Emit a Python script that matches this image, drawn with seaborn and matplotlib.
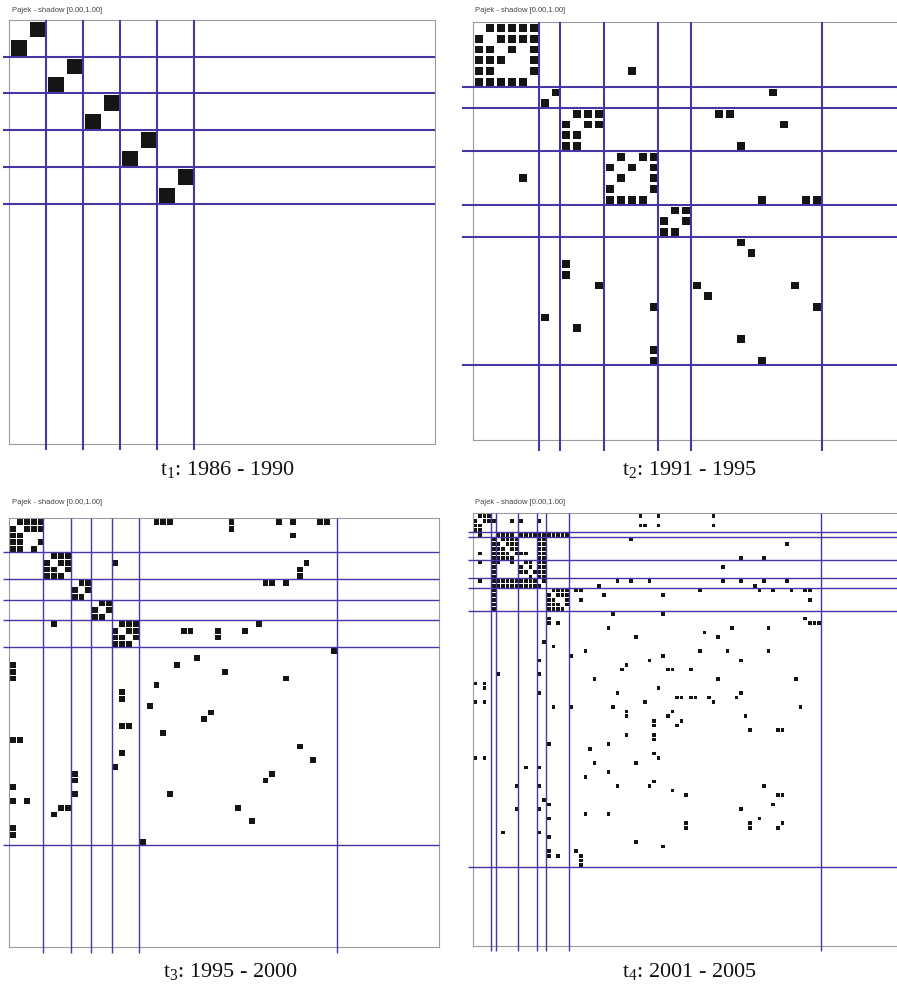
import numpy as np
import matplotlib
matplotlib.use('Agg')
import matplotlib.pyplot as plt
import seaborn as sns
from matplotlib.colors import ListedColormap

# ---- data: block sizes and filled cells (row -> columns) ----
p1_n = 23
p1_sizes = [2, 2, 2, 2, 2]
p1_cells = {0: [1], 1: [0], 2: [3], 3: [2], 4: [5], 5: [4],
            6: [7], 7: [6], 8: [9], 9: [8]}

p2_n = 39
p2_sizes = [6, 2, 4, 5, 3, 12]
p2_cells = {
    0: [1, 2, 3, 4, 5], 1: [0, 2, 3, 4, 5], 2: [0, 1, 3, 5], 3: [0, 1, 2, 5],
    4: [0, 1, 5, 14], 5: [0, 1, 2, 3, 4],
    6: [7, 27], 7: [6],
    8: [9, 10, 11, 22, 23], 9: [8, 10, 11, 28], 10: [8, 9], 11: [8, 9, 24],
    12: [13, 15, 16], 13: [12, 14, 16], 14: [4, 13, 16], 15: [12, 16],
    16: [12, 13, 14, 15, 26, 30, 31],
    17: [18, 19], 18: [17, 19], 19: [17, 18],
    20: [24], 21: [25], 22: [8], 23: [8], 24: [11, 20, 29], 25: [21],
    26: [16, 31], 27: [6], 28: [9], 29: [24], 30: [16], 31: [16, 26],
}

p3_n = 63
p3_sizes = [5, 4, 3, 3, 4, 29]
p3_cells = {
    0: [1, 2, 3, 4, 21, 22, 23, 32, 39, 41, 45, 46], 1: [0, 2, 3, 4, 32],
    2: [0, 1, 41], 3: [0, 1, 4], 4: [0, 1, 3],
    5: [6, 7, 8], 6: [5, 7, 8, 15, 43], 7: [5, 6, 8, 42], 8: [5, 6, 7, 42],
    9: [10, 11, 37, 38, 40], 10: [9, 11], 11: [9, 10],
    12: [13, 14], 13: [12, 14], 14: [12, 13],
    15: [6, 16, 17, 18, 36], 16: [15, 17, 18, 25, 26, 30, 34],
    17: [15, 16, 18, 30], 18: [15, 16, 17],
    19: [47], 20: [27], 21: [0, 24], 22: [0, 31], 23: [0, 40], 24: [21],
    25: [16], 26: [16], 27: [20], 28: [29], 29: [28], 30: [16, 17], 31: [22],
    32: [0, 1], 33: [42], 34: [16], 35: [44], 36: [15], 37: [9, 38],
    38: [9, 37], 39: [0], 40: [9, 23], 41: [0, 2], 42: [7, 8, 33], 43: [6],
    44: [35], 45: [0], 46: [0], 47: [19],
}

p4_n = 93
p4_sizes = [4, 1, 5, 4, 2, 5, 55]
p4_cells = {
    0: [1, 2, 3, 36, 40, 52], 1: [0, 2, 3, 4, 8, 10, 14],
    2: [0, 1, 36, 37, 40, 52], 3: [0, 1],
    4: [1, 5, 6, 7, 8, 10, 11, 12, 13, 14, 15, 16, 17, 18, 19, 20],
    5: [4, 6, 7, 8, 9, 14, 15, 34], 6: [4, 5, 7, 8, 9, 14, 15, 68],
    7: [4, 5, 6, 8, 9, 14, 15], 8: [1, 4, 5, 6, 7, 9, 10, 11, 14, 15],
    9: [4, 5, 6, 7, 8, 14, 15, 58, 63], 10: [1, 4, 5, 8, 11, 12, 14, 15],
    11: [4, 10, 12, 14, 15, 54], 12: [4, 10, 11, 13, 14, 15], 13: [4, 12, 14, 15],
    14: [1, 4, 5, 6, 7, 8, 9, 10, 11, 12, 13, 15, 31, 34, 38, 54, 58, 63, 68],
    15: [4, 5, 6, 7, 8, 9, 10, 11, 12, 13, 14, 27, 61],
    16: [4, 17, 18, 19, 20, 22, 23, 49, 62, 65, 69, 72, 73],
    17: [4, 16, 18, 19, 20, 28, 41], 18: [4, 16, 17, 20, 23, 73],
    19: [4, 16, 17, 18, 20], 20: [4, 16, 17, 18, 19],
    21: [30, 41], 22: [16, 72], 23: [16, 18, 73, 74, 75], 24: [29, 56, 64],
    25: [50], 26: [35, 53], 27: [15], 28: [17], 29: [24, 49, 55, 64],
    30: [21, 41], 31: [14, 38, 58], 32: [33], 33: [32, 42, 43, 47], 34: [5, 14],
    35: [26, 53, 70], 36: [0, 2], 37: [2, 40], 38: [14, 31, 58],
    39: [44, 45, 47, 48, 51, 57], 40: [0, 2, 37, 52], 41: [17, 21, 30, 71],
    42: [33, 43], 43: [33, 42, 59], 44: [39, 45], 45: [39, 44], 46: [60, 66, 67],
    47: [33, 39], 48: [39], 49: [16, 29], 50: [25], 51: [39], 52: [0, 2, 40],
    53: [26, 35], 54: [11, 14], 55: [29], 56: [24], 57: [39],
    58: [9, 14, 31, 38, 63], 59: [43], 60: [46, 66, 67], 61: [15], 62: [16, 65],
    63: [9, 14, 58], 64: [24, 29], 65: [16, 62], 66: [46, 60, 67],
    67: [46, 60, 66], 68: [6, 14], 69: [16], 70: [35], 71: [41], 72: [16, 22],
    73: [16, 18, 23], 74: [23], 75: [23],
}

title = "Pajek - shadow [0.00,1.00]"
periods = ["1986 - 1990", "1991 - 1995", "1995 - 2000", "2001 - 2005"]

W, H = 897, 987
fig = plt.figure(figsize=(W / 100, H / 100), dpi=100)
line_col = '#4636a6'


def draw_panel(frame, n, sizes, cells, ext, lw, gap, title_xy, cap_xy, k):
    x0, y0, x1, y1 = frame
    ax = fig.add_axes([x0 / W, 1 - y1 / H, (x1 - x0) / W, (y1 - y0) / H])
    m = np.zeros((n, n))
    for r, cols in cells.items():
        m[r, cols] = 1
    sns.heatmap(m, mask=(m == 0), cmap=ListedColormap(['#151515']),
                vmin=0, vmax=1, cbar=False, linewidths=gap, linecolor='white',
                xticklabels=False, yticklabels=False, ax=ax)
    ax.set_xlim(0, n)
    ax.set_ylim(n, 0)
    for s in ax.spines.values():
        s.set_visible(True)
        s.set_color('#9c9c9c')
        s.set_linewidth(0.8)
    for b in np.cumsum(sizes):
        ax.plot([-ext, n], [b, b], color=line_col, lw=lw, clip_on=False,
                solid_capstyle='butt', zorder=3)
        ax.plot([b, b], [0, n + ext], color=line_col, lw=lw, clip_on=False,
                solid_capstyle='butt', zorder=3)
    fig.text(title_xy[0] / W, 1 - title_xy[1] / H, title, fontsize=5.5,
             family='Liberation Sans', color='#444444', va='center', ha='left')
    fig.text(cap_xy[0] / W, 1 - cap_xy[1] / H,
             r'$\mathregular{t_%d}$: %s' % (k + 1, periods[k]),
             fontsize=16, family='Liberation Serif', color='#111111',
             ha='center', va='center')


draw_panel((9.3, 20.7, 434.5, 445), p1_n, p1_sizes, p1_cells, 0.33, 1.5, 0.9,
           (12, 11), (228, 469), 0)
draw_panel((473.3, 23.3, 898, 441.3), p2_n, p2_sizes, p2_cells, 1.0, 1.5, 0.9,
           (475, 10), (690, 469), 1)
draw_panel((9.3, 519, 439, 947.7), p3_n, p3_sizes, p3_cells, 0.9, 1.0, 0.7,
           (12, 502), (231, 972), 2)
draw_panel((472.7, 514.3, 898.6, 947), p4_n, p4_sizes, p4_cells, 1.0, 1.0, 0.55,
           (475, 503), (690, 972), 3)

fig.savefig('out.png', dpi=100)
